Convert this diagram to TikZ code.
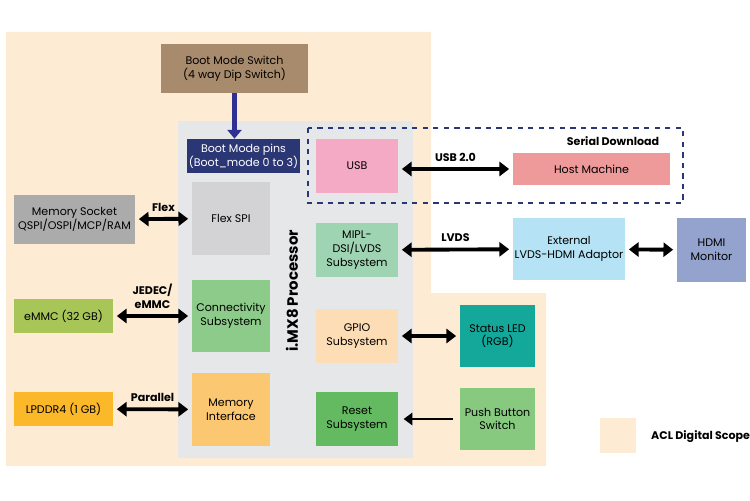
\documentclass[tikz,border=0pt]{standalone}
\usepackage{fontspec}
\setmainfont{Poppins}
\usetikzlibrary{arrows.meta}

\definecolor{scope}{HTML}{FDEBD3}
\definecolor{proc}{HTML}{E6E7E9}
\definecolor{navy}{HTML}{2B3674}
\definecolor{bootblue}{HTML}{2E3192}
\definecolor{cSwitch}{HTML}{A88A6C}
\definecolor{cFlex}{HTML}{D3D3D5}
\definecolor{cConn}{HTML}{8DCB8A}
\definecolor{cMemif}{HTML}{FBC871}
\definecolor{cSocket}{HTML}{ABABAB}
\definecolor{cEmmc}{HTML}{A8C657}
\definecolor{cLpddr}{HTML}{FBB829}
\definecolor{cUsb}{HTML}{F4A9C4}
\definecolor{cMipi}{HTML}{9FD4B2}
\definecolor{cGpio}{HTML}{FDDDB5}
\definecolor{cReset}{HTML}{63BA60}
\definecolor{cHost}{HTML}{EE9A9A}
\definecolor{cAdapt}{HTML}{B5E2F5}
\definecolor{cHdmi}{HTML}{93A3CE}
\definecolor{cLed}{HTML}{14A89B}
\definecolor{cPush}{HTML}{86C97F}

\begin{document}
\begin{tikzpicture}[x=0.02cm, y=-0.02cm,
	font=\fontsize{6.3}{7.8}\selectfont,
	blk/.style 2 args={draw=none, align=center, inner sep=1pt,
		minimum width=#1*0.02cm, minimum height=#2*0.02cm},
	bi/.style={{Triangle[length=5.5pt,width=8pt]}-{Triangle[length=5.5pt,width=8pt]},
		line width=2.2pt, shorten <=2pt, shorten >=2pt},
	lbl/.style={font=\fontsize{6.3}{7.8}\selectfont\bfseries}
	]
	\useasboundingbox (0,0) rectangle (750,500);

	% scope and processor
	\fill[scope] (6,32) -- (431,32) -- (431,293) -- (546,293) -- (546,466) -- (6,466) -- cycle;
	\fill[proc] (178,121) rectangle (413,458);
	\draw[navy, dashed, line width=1pt] (308,128) rectangle (683,203);

	% blocks
	\node[blk={147}{49}, fill=cSwitch] (bootsw) at (234.5,68.5) {Boot Mode Switch\\(4 way Dip Switch)};
	\node[blk={107}{34}, fill=navy, text=white] (bootpins) at (243.5,156) {Boot Mode pins\\(Boot\_mode 0 to 3)};
	\node[blk={78}{73}, fill=cFlex] (flexspi) at (231,218.5) {Flex SPI};
	\node[blk={78}{72}, fill=cConn] (conn) at (231,316) {Connectivity\\Subsystem};
	\node[blk={78}{73}, fill=cMemif] (memif) at (231,409.5) {Memory\\Interface};
	\node[blk={121}{49}, fill=cSocket] (socket) at (74.5,219.5) {Memory Socket\\QSPI/OSPI/MCP/RAM};
	\node[blk={99}{34}, fill=cEmmc] (emmc) at (63.5,316) {eMMC (32 GB)};
	\node[blk={99}{34}, fill=cLpddr] (lpddr) at (63.5,409) {LPDDR4 (1 GB)};
	\node[blk={82}{54}, fill=cUsb] (usb) at (357,166) {USB};
	\node[blk={82}{54}, fill=cMipi] (mipi) at (357,250) {MIPL-\\DSI/LVDS\\Subsystem};
	\node[blk={82}{54}, fill=cGpio] (gpio) at (357,336) {GPIO\\Subsystem};
	\node[blk={82}{54}, fill=cReset] (reset) at (357,419) {Reset\\Subsystem};
	\node[blk={157}{32}, fill=cHost] (host) at (591.5,169) {Host Machine};
	\node[blk={112}{62}, fill=cAdapt] (adapt) at (569,249) {External\\LVDS-HDMI Adaptor};
	\node[blk={69}{64}, fill=cHdmi] (hdmi) at (711.5,250) {HDMI\\Monitor};
	\node[blk={75}{62}, fill=cLed] (led) at (497.5,336) {Status LED\\(RGB)};
	\node[blk={75}{62}, fill=cPush] (push) at (497.5,419) {Push Button\\Switch};
	\node[blk={36}{35}, fill=scope] (legend) at (618,435.5) {};
	\node[lbl, anchor=west] (legtxt) at (645,437) {ACL Digital Scope};

	\node[rotate=90, font=\fontsize{8.5}{10}\selectfont\bfseries] (cpu) at (292,291) {i.MX8 Processor};
	\node[lbl] (serial) at (613,141) {Serial Download};

	% connectors
	\draw[bootblue, line width=2.5pt, -{Triangle[length=5pt,width=8pt]}] (bootsw.south) -- (bootsw.south |- bootpins.north);
	\draw[bi] (socket) -- node[above, lbl] {Flex} (flexspi);
	\draw[bi] (emmc) -- node[above, lbl, align=center] {JEDEC/\\eMMC} (conn);
	\draw[bi] (lpddr) -- node[above, lbl] {Parallel} (memif);
	\draw[bi] (usb.east |- host) -- node[above, lbl] {USB 2.0} (host);
	\draw[bi] (mipi) -- node[above, lbl] {LVDS} (adapt);
	\draw[bi] (adapt) -- (hdmi);
	\draw[bi] (gpio) -- (led);
	\draw[-{Triangle[length=5pt,width=7pt]}, line width=1.2pt, shorten <=4pt, shorten >=3pt] (push) -- (reset);
\end{tikzpicture}
\end{document}
